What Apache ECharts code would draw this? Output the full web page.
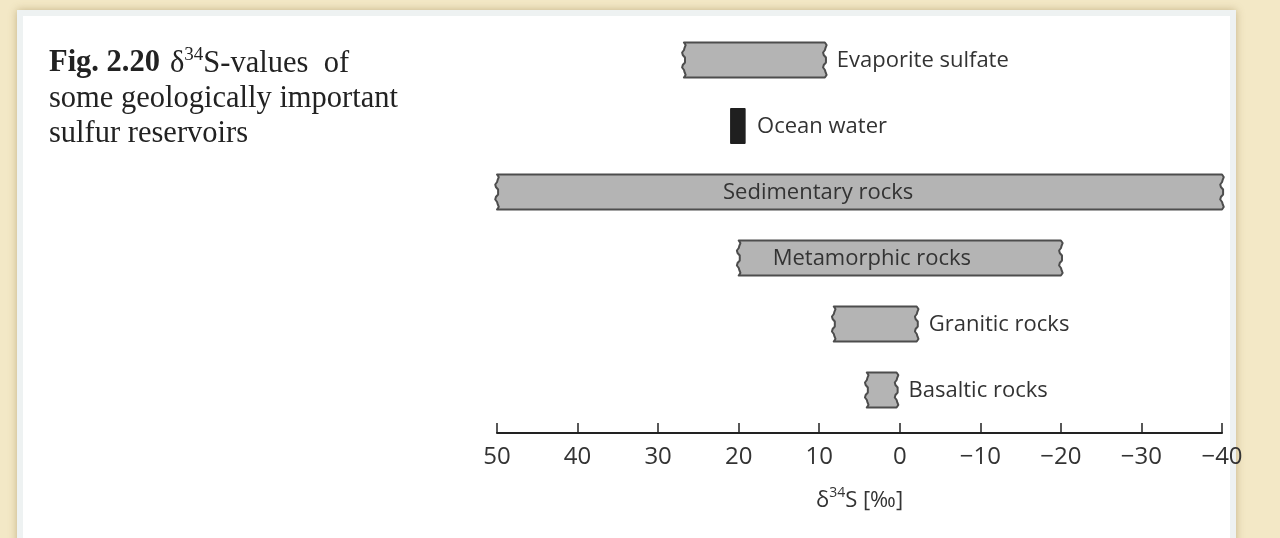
<!DOCTYPE html>
<html>
<head>
<meta charset="utf-8">
<script src="https://cdn.jsdelivr.net/npm/echarts@6/dist/echarts.min.js"></script>
<style>
  html, body { margin: 0; padding: 0; width: 1280px; height: 538px; overflow: hidden; background: #f3e8c6; }
  #panel { position: absolute; left: 17px; top: 10px; width: 1219px; height: 560px; box-sizing: border-box;
           background: #ffffff; border: 6px solid #eef2f2; box-shadow: 0 0 8px rgba(140, 115, 60, 0.45); }
  #chart { position: absolute; left: 0; top: 0; width: 1280px; height: 538px; }
</style>
</head>
<body>
<div id="panel"></div>
<div id="chart"></div>
<script>
// δ34S ranges (‰) of sulfur reservoirs
const categories = ['Evaporite sulfate', 'Ocean water', 'Sedimentary rocks', 'Metamorphic rocks', 'Granitic rocks', 'Basaltic rocks'];
const rangeHigh = [26.8, 21, 50, 20, 8.2, 4.1];
const rangeLow = [9.3, 19.2, -40, -20, -2.1, 0.4];
const axisTicks = [50, 40, 30, 20, 10, 0, -10, -20, -30, -40];

// how each bar and its label are drawn
const barStyle = {
  'Evaporite sulfate': { kind: 'torn', label: 'right' },
  'Ocean water': { kind: 'solid', label: 'right' },
  'Sedimentary rocks': { kind: 'torn', label: 'inside', inset: 226 },
  'Metamorphic rocks': { kind: 'torn', label: 'inside', inset: 34 },
  'Granitic rocks': { kind: 'torn', label: 'right' },
  'Basaltic rocks': { kind: 'torn', label: 'right' }
};

const sansFont = '"Open Sans", "Noto Sans", sans-serif';
const serifFont = '"Liberation Serif", "DejaVu Serif", serif';

// wavy "broken" end for open-ended ranges
function tornEdge(x, yTop, yBot, reverse) {
  const pts = [];
  const n = 14;
  for (let k = 0; k <= n; k++) {
    const t = k / n;
    const y = yTop + (yBot - yTop) * t;
    const dx = 1.6 * Math.sin(t * Math.PI * 5) + 0.5 * Math.sin(t * Math.PI * 11);
    pts.push([x + dx, y]);
  }
  return reverse ? pts.reverse() : pts;
}

function renderItem(params, api) {
  const idx = api.value(0);
  const name = categories[idx];
  const st = barStyle[name];
  const p1 = api.coord([api.value(1), idx]);
  const p2 = api.coord([api.value(2), idx]);
  const xl = Math.min(p1[0], p2[0]);
  const xr = Math.max(p1[0], p2[0]);
  const yc = p1[1];
  const h = api.size([0, 1])[1] * 0.53;
  const yTop = yc - h / 2, yBot = yc + h / 2;
  const children = [];
  if (st.kind === 'solid') {
    children.push({ type: 'rect', shape: { x: xl, y: yTop, width: xr - xl, height: h },
      style: { fill: '#1f1f1f', stroke: '#1f1f1f', lineWidth: 1 } });
  } else {
    const pts = [].concat(
      tornEdge(xr, yTop, yBot, false),
      tornEdge(xl, yTop, yBot, true)
    );
    children.push({ type: 'polygon', shape: { points: pts },
      style: { fill: '#b4b4b4', stroke: '#4d4d4d', lineWidth: 2, lineJoin: 'round' } });
  }
  const textStyle = { text: name, fontSize: 22, fontFamily: sansFont, fill: '#333333',
    verticalAlign: 'middle', align: 'left', y: yc + 1 };
  textStyle.x = st.label === 'right' ? xr + 12 : xl + st.inset;
  children.push({ type: 'text', style: textStyle });
  return { type: 'group', children: children };
}

const chart = echarts.init(document.getElementById('chart'), null, { renderer: 'canvas' });
chart.setOption({
  animation: false,
  backgroundColor: 'transparent',
  title: {
    left: 44, top: 41,
    text: '{b|Fig. 2.20}  {n|δ}{sup|34}{n|S-values  of}\n{n|some geologically important}\n{n|sulfur reservoirs}',
    textStyle: {
      fontWeight: 'normal',
      rich: {
        b: { fontFamily: serifFont, fontWeight: 'bold', fontSize: 30.5, color: '#222', lineHeight: 35 },
        n: { fontFamily: serifFont, fontWeight: 'normal', fontSize: 30.5, color: '#222', lineHeight: 35 },
        sup: { fontFamily: serifFont, fontWeight: 'normal', fontSize: 19, color: '#222', lineHeight: 35, verticalAlign: 'top', padding: [0, 0, 12, 0] }
      }
    }
  },
  grid: { left: 497, right: 58, top: 27, bottom: 115 },
  xAxis: {
    type: 'value',
    inverse: true,
    min: axisTicks[axisTicks.length - 1],
    max: axisTicks[0],
    interval: 10,
    offset: 10,
    splitLine: { show: false },
    axisLine: { show: true, lineStyle: { color: '#222', width: 2 } },
    axisTick: { show: true, inside: true, length: 10, lineStyle: { color: '#222', width: 1.5 } },
    axisLabel: {
      margin: 12, fontSize: 24, fontFamily: sansFont, color: '#333',
      formatter: v => (v < 0 ? '\u2212' + Math.abs(v) : String(v))
    },
    name: '{n|δ}{s|34}{n|S [‰]}',
    nameLocation: 'middle',
    nameGap: 53,
    nameTextStyle: {
      rich: {
        n: { fontFamily: sansFont, fontSize: 22, color: '#333', lineHeight: 30 },
        s: { fontFamily: sansFont, fontSize: 14, color: '#333', lineHeight: 30, verticalAlign: 'top', padding: [0, 0, 16, 0] }
      }
    }
  },
  yAxis: { type: 'category', data: categories, inverse: true, show: false },
  series: [{
    type: 'custom',
    clip: false,
    renderItem: renderItem,
    encode: { y: 0, x: [1, 2] },
    data: categories.map((c, i) => [i, rangeHigh[i], rangeLow[i]])
  }]
});
</script>
</body>
</html>
